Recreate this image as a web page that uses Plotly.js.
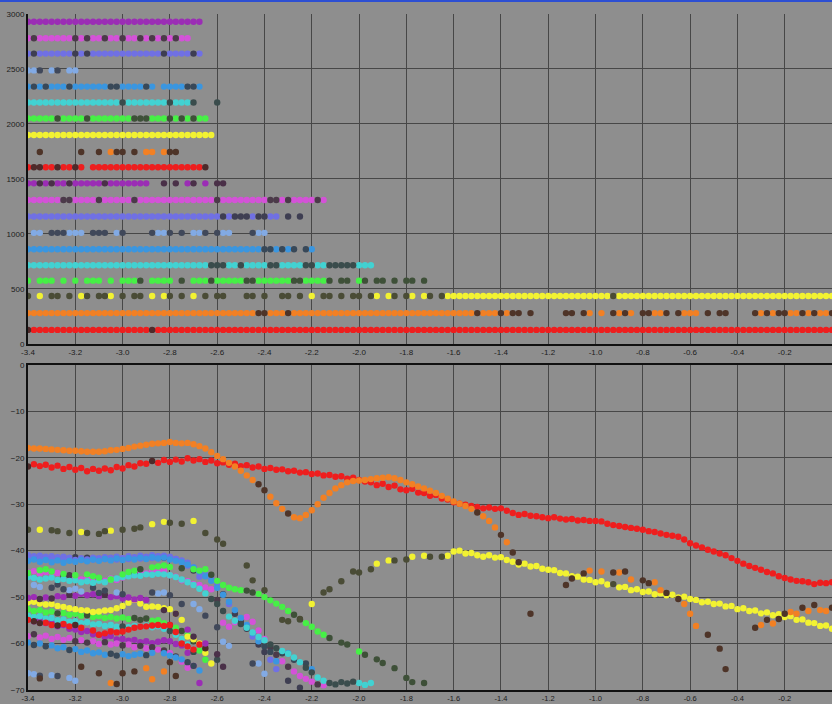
<!DOCTYPE html>
<html>
<head>
<meta charset="utf-8">
<script src="https://cdn.plot.ly/plotly-3.0.1.min.js"></script>
<style>
  html, body { margin: 0; padding: 0; background: #8e8e8e; }
  #chart { width: 832px; height: 704px; }
  #edge { position: absolute; left: 0; top: 0; width: 832px; height: 2px; background: #2d4fd2; }
</style>
</head>
<body>
<div id="chart"></div>
<div id="edge"></div>
<script>
// Shared sample positions along the x axis (step 0.025)
const xGrid = [-3.4,-3.375,-3.35,-3.325,-3.3,-3.275,-3.25,-3.225,-3.2,-3.175,-3.15,-3.125,-3.1,-3.075,-3.05,-3.025,-3,-2.975,-2.95,-2.925,
  -2.9,-2.875,-2.85,-2.825,-2.8,-2.775,-2.75,-2.725,-2.7,-2.675,-2.65,-2.625,-2.6,-2.575,-2.55,-2.525,-2.5,-2.475,-2.45,-2.425,
  -2.4,-2.375,-2.35,-2.325,-2.3,-2.275,-2.25,-2.225,-2.2,-2.175,-2.15,-2.125,-2.1,-2.075,-2.05,-2.025,-2,-1.975,-1.95,-1.925,
  -1.9,-1.875,-1.85,-1.825,-1.8,-1.775,-1.75,-1.725,-1.7,-1.675,-1.65,-1.625,-1.6,-1.575,-1.55,-1.525,-1.5,-1.475,-1.45,-1.425,
  -1.4,-1.375,-1.35,-1.325,-1.3,-1.275,-1.25,-1.225,-1.2,-1.175,-1.15,-1.125,-1.1,-1.075,-1.05,-1.025,-1,-0.975,-0.95,-0.925,
  -0.9,-0.875,-0.85,-0.825,-0.8,-0.775,-0.75,-0.725,-0.7,-0.675,-0.65,-0.625,-0.6,-0.575,-0.55,-0.525,-0.5,-0.475,-0.45,-0.425,
  -0.4,-0.375,-0.35,-0.325,-0.3,-0.275,-0.25,-0.225,-0.2,-0.175,-0.15,-0.125,-0.1,-0.075,-0.05,-0.025,0];

// Row level of each series in the upper strip chart (series 1..20)
const rowLevels = [2930, 2780, 2640, 2487, 2340, 2195, 2050, 1900, 1745, 1607,
                   1460, 1308, 1158, 1010, 860, 715, 575, 435, 280, 127];

// Lower chart values per series, aligned to xGrid (null = no sample); *Dark = flagged samples
const purple1Y = [-54.5,-55.2,-54.8,-55.6,-55.5,-56.3,-56.0,-56.8,-57.0,-57.5,-57.3,-58.0,-58.1,-58.6,-58.4,-59.1,-59.0,-59.4,-59.2,-59.7,
  -59.5,-59.9,-59.6,-59.3,-59.5,-60.1,-60.4,-62.0,-64.8,-68.5];
const purple1Dark = [];

const magenta2Y = [-58.4,-58.0,-58.7,-58.3,-59.0,-58.6,-59.2,-58.8,-59.5,-59.3,-59.8,-59.5,-60.1,-59.7,-60.2,-60.0,-60.4,-60.2,-60.8,-60.5,
  -61.0,-60.8,-61.3,-61.5,-62.0,-62.8,-63.9,-65.2];
const magenta2Dark = [1, 8, 10, 13, 16, 19, 21, 23, 25];

const slate3Y = [-41.0,-41.4,-41.1,-41.5,-41.2,-41.6,-41.3,-41.7,-41.4,-41.8,-41.5,-41.9,-41.6,-41.8,-41.5,-41.9,-41.6,-41.8,-41.4,-41.7,
  -41.3,-41.6,-41.2,-41.5,-41.3,-41.8,-42.4,-43.2,-44.3,-45.6];
const slate3Dark = [1, 8, 10, 23, 28];

const lightBlue4Y = [-66.4,-66.6,-66.9,null,-66.8,-67.0,null,-67.4,-68.0];
const lightBlue4Dark = [2, 5];

const blue5Y = [-59.8,-60.3,-60.0,-60.6,-60.4,-61.0,-60.8,-61.4,-61.2,-61.8,-61.5,-62.1,-61.9,-62.4,-62.2,-62.6,-62.3,-62.7,-62.4,-62.2,
  -62.5,-62.0,null,-62.1,-62.6,-63.0,-63.4,-64.0,-64.8,-65.8];
const blue5Dark = [1, 3, 7, 14, 15, 20, 27, 28];

const cyan6Y = [-54.0,-54.3,-54.1,-54.6,-54.5,-55.0,-54.8,-55.3,-55.2,-55.6,-55.4,-55.9,-55.8,-56.2,-56.0,-56.4,-56.3,-56.5,-56.2,-56.4,
  -56.1,-56.5,-56.3,-56.8,-57.3,-58.1,-59.0,-60.2,-61.8,null,null,null,-63.5];
const cyan6Dark = [16, 24, 28, 32];

const green7Y = [-52.6,-53.0,-52.8,-53.3,-53.1,-53.5,-53.4,-53.8,-53.6,-54.0,-53.9,-54.3,-54.1,-54.5,-54.3,-54.6,-54.4,-54.7,-54.5,-54.9,
  -54.6,-55.1,-55.0,-55.6,-56.0,-56.6,-57.3,-58.2,-59.5,-61.5,-63.5];
const green7Dark = [5, 10, 18, 19, 20, 24, 26, 28];

const yellow8Y = [-51.1,-51.0,-51.4,-51.6,-51.5,-51.9,-52.1,-52.4,-52.6,-52.8,-52.9,-53.2,-53.1,-52.9,-52.8,-52.4,-51.9,-51.2,-50.6,-51.4,
  -52.1,-52.0,-52.1,-52.4,-52.6,-53.6,-54.9,-58.5,-59.1,-60.0,-62.0,-64.3];
const yellow8Dark = [];

const orange9Y = [null,null,-67.5,null,null,null,null,null,null,-65.0,null,null,-66.4,null,-68.5,-68.7,-66.4,null,-66.0,null,
  -65.3,-67.7,null,-66.0,-64.0,-67.0];
const orange9Dark = [2, 9, 12, 15, 16, 18, 24, 25];

const red10Y = [-54.9,-55.2,-55.6,-55.5,-56.0,-56.1,-55.8,-56.3,-56.0,-56.6,null,-57.2,-58.1,-57.8,-57.4,-57.6,-57.4,-57.0,-56.6,-56.4,
  -56.3,-56.1,-56.0,-56.2,-56.0,-57.5,-60.0,-60.6,-61.3,-60.2,-61.0];
const red10Dark = [1, 2, 5, 8, 30];

const purple11Y = [-50.2,-50.0,-50.4,-50.1,-50.3,-49.8,-50.0,-49.5,-49.7,-49.3,-49.6,-49.4,-49.8,-49.5,-50.0,-49.8,-50.3,-50.1,-50.5,-50.2,
  -50.6,null,null,-52.8,null,-53.6,null,-57.0,-58.5,null,-60.0,null,-62.3,-65.0];
const purple11Dark = [2, 4, 7, 13, 23, 25, 28, 32, 33];

const magenta12Y = [-44.7,-44.4,-44.9,-44.6,-45.0,-44.8,-45.5,-45.3,-45.8,-46.2,-45.9,-46.4,-46.1,-46.5,-46.0,-46.3,-45.8,-45.2,-45.0,-44.7,
  -44.9,-44.3,-44.5,-44.2,-45.3,-45.6,-46.4,-46.6,-47.2,-47.4,-47.9,-48.3,-50.6,-55.5,-56.4,-55.4,-54.7,-54.3,-55.3,-57.2,
  -59.0,-60.8,-62.4,-63.8,-65.0,-66.0,-67.0,-67.6,-68.2,-68.8,-69.0];
const magenta12Dark = [6, 7, 12, 18, 32, 41, 42, 44, 49];

const slate13Y = [-41.5,-41.2,-41.7,-41.3,-41.8,-41.4,-41.9,-41.5,-42.0,-41.6,-41.9,-41.5,-41.8,-41.4,-41.7,-41.3,-41.6,-41.2,-41.5,-41.1,
  -41.4,-41.0,-41.3,-41.1,-41.5,-41.8,-42.1,-42.6,-43.6,-44.5,-45.1,-46.2,-47.2,-49.4,-51.5,-53.6,-55.3,-56.8,-58.5,-60.2,
  -61.8,-63.5,-65.5,null,-68.0,null,-69.5];
const slate13Dark = [33, 35, 36, 37, 39, 40, 44, 46];

const lightBlue14Y = [null,-47.4,-47.8,null,-48.0,-47.3,-48.3,-48.5,-48.2,-48.8,null,-48.0,-49.1,-48.6,null,-49.0,-49.4,null,null,null,
  null,-49.0,-49.2,-49.0,-49.6,null,-51.5,null,-51.5,-52.6,-54.0,null,-56.5,-59.6,-60.5,null,null,null,-64.3,-64.3,
  -66.5];
const lightBlue14Dark = [4, 5, 6, 11, 12, 13, 16, 21, 24, 26, 30, 32, 38];

const blue15Y = [-42.2,-41.9,-42.4,-42.0,-42.5,-42.1,-42.6,-42.2,-42.4,-42.0,-42.3,-41.9,-42.2,-41.8,-42.1,-41.7,-42.0,-41.6,-41.9,-41.5,
  -41.8,-41.4,-41.7,-41.5,-41.9,-42.2,-42.5,-43.0,-43.6,-44.5,-45.5,-46.5,-48.0,-49.5,-51.0,-52.8,-54.5,-56.0,-57.8,-59.5,
  -60.6,-61.8,-63.8,-62.1,-62.1,-63.5,null,-64.3,-65.5];
const blue15Dark = [40, 41, 43, 45, 47];

const cyan16Y = [-45.7,-45.9,-46.2,-46.0,-45.8,-46.3,-46.1,-46.5,-46.4,-46.8,-46.6,-46.9,-46.5,-46.8,-46.2,-46.0,-45.7,-45.5,-45.3,-45.4,
  -45.1,-45.2,-45.0,-45.1,-45.3,-45.7,-46.2,-46.8,-47.4,-48.2,-49.2,-50.4,-51.5,-53.0,-54.2,-55.1,-55.8,-56.6,-57.6,-58.6,
  -59.3,-60.2,-61.0,-61.6,-62.2,-63.0,-64.0,-65.2,-66.2,-67.3,-68.0,-68.5,-68.8,-68.3,-68.6,-68.2,-68.5,-68.9,-68.5];
const cyan16Dark = [31, 32, 33, 36, 41, 42, 47, 48, 51, 52, 53, 54, 55];

const green17Y = [-44.8,null,-44.2,-44.0,-44.5,null,-45.0,null,-45.3,null,-45.1,-45.5,-45.8,null,-46.2,null,-45.1,-44.6,-44.3,-44.0,
  null,-43.6,-43.4,-43.2,-43.5,null,-43.8,null,-44.0,-44.3,-44.0,-45.2,-46.5,-47.4,-48.0,-48.3,-48.5,-48.6,-49.0,-49.3,
  -50.0,-50.7,-51.4,-52.1,-53.0,-53.8,-54.8,-55.6,-56.4,-57.4,-58.1,-58.8,null,-59.8,-60.2,null,-61.7,-62.4,null,-63.4,
  -64.2,null,-65.3,null,-67.4,-68.3,null,-68.5];
const green17Dark = [19, 26, 31, 37, 38, 45, 46, 51, 53, 54, 57, 59, 60, 62, 64, 65, 67];

const yellow18Y = [-35.5,null,-35.5,null,-35.6,-35.8,null,-36.2,null,-36.0,-36.2,null,-36.4,-35.8,-35.7,null,-35.5,null,-35.3,-35.0,
  null,-34.3,null,-33.8,-34.0,null,-34.2,null,-33.6,null,-36.2,null,-37.6,-38.5,null,null,null,-43.2,-46.4,null,
  -48.5,null,null,-54.9,-55.2,null,-54.7,null,-51.5,null,-49.0,-48.3,null,-46.6,null,-44.5,-44.7,null,-44.0,-42.8,
  null,-42.1,-42.1,null,-41.9,-41.3,null,-41.1,-41.3,null,-41.3,-41.1,-40.2,-40.0,-40.6,-40.5,-41.0,-41.3,-41.0,-41.5,
  -41.4,-42.0,-42.4,-43.0,-42.8,-43.4,-43.3,-43.9,-44.1,-44.2,-44.8,-44.9,-45.5,-45.6,-46.2,-46.3,-46.8,-46.6,-47.3,-47.2,
  -47.9,-47.8,-48.5,-48.3,-48.9,-48.8,-49.4,-49.2,-49.6,-49.5,-50.1,-49.9,-50.4,-50.6,-51.1,-51.0,-51.5,-51.4,-52.0,-51.9,
  -52.6,-52.4,-53.0,-52.9,-53.5,-53.3,-53.9,-53.7,-54.3,-54.1,-54.9,-54.8,-55.5,-55.6,-56.2,-56.1,-56.8];
const yellow18Dark = [0, 4, 5, 7, 10, 12, 13, 16, 18, 19, 24, 26, 30, 32, 33, 37, 38, 40, 43, 44, 46, 50, 51, 53, 55, 56, 58, 62, 64, 68, 70, 99];

const orange19Y = [-17.9,-18.0,-18.0,-18.1,-18.2,-18.3,-18.4,-18.5,-18.5,-18.6,-18.7,-18.7,-18.7,-18.6,-18.4,-18.3,-18.1,-17.9,-17.6,-17.4,
  -17.2,-17.0,-16.9,-16.8,-16.6,-16.8,-16.9,-16.8,-17.1,-17.5,-18.0,-18.8,-19.6,-20.3,-21.1,-21.9,-22.8,-23.8,-24.8,-25.7,
  -27.0,-28.4,-29.8,-31.0,-32.0,-32.8,-33.0,-32.3,-31.3,-30.0,-28.6,-27.6,-26.6,-25.9,-25.3,-25.0,-24.9,-24.8,-24.6,-24.4,
  -24.3,-24.2,-24.4,-24.8,-25.3,-25.7,-26.2,-26.6,-27.1,-27.6,-28.2,-28.8,-29.4,-29.9,-30.4,-31.0,-31.8,-32.6,-33.6,-35.0,
  -36.6,-38.2,-40.4,-42.5,null,-53.6,null,null,null,null,null,-47.4,-46.0,null,-44.9,-44.3,null,-44.5,null,-44.7,
  -44.7,-44.5,-46.2,null,-46.4,-47.0,-46.8,-48.5,-49.1,null,-50.4,-51.5,-53.6,-56.2,null,-58.1,null,-61.1,-65.5,null,
  null,null,null,-56.6,-56.0,-54.9,-55.7,-54.7,-53.6,-53.2,-53.6,-52.3,-53.0,-51.7,-52.8,-53.0,-52.3];
const orange19Dark = [39, 40, 44, 76, 80, 82, 83, 85, 91, 92, 94, 99, 101, 104, 105, 108, 110, 115, 117, 118, 123, 125, 127, 128, 131, 133, 136];

const red20Y = [-21.9,-21.4,-21.8,-21.5,-22.1,-21.7,-22.4,-22.0,-22.6,-22.2,-22.9,-22.4,-22.8,-22.3,-22.7,-22.0,-22.3,-21.6,-21.9,-21.2,
  -21.3,-20.7,-21.1,-20.5,-20.9,-20.4,-20.8,-20.1,-20.6,-20.3,-20.9,-20.6,-21.2,-21.0,-21.5,-21.3,-21.8,-21.6,-22.1,-21.9,
  -22.4,-22.2,-22.6,-22.5,-22.9,-22.8,-23.2,-23.1,-23.5,-23.4,-23.8,-23.7,-24.1,-24.0,-24.5,-24.3,-24.8,-25.1,-25.3,-25.9,
  -25.6,-26.3,-26.0,-26.8,-27.0,-26.7,-27.5,-27.6,-28.2,-28.0,-28.8,-29.0,-29.6,-29.9,-30.1,-30.4,-30.6,-30.9,-30.7,-31.0,
  -30.9,-31.4,-31.9,-32.3,-32.1,-32.5,-32.6,-32.8,-33.0,-32.8,-33.1,-33.3,-33.2,-33.5,-33.4,-33.6,-33.6,-33.7,-34.2,-34.5,
  -34.7,-34.9,-35.1,-35.3,-35.5,-35.8,-36.0,-36.3,-36.6,-36.8,-37.0,-37.6,-38.4,-38.9,-39.3,-39.8,-40.2,-40.6,-41.0,-41.6,
  -42.2,-42.8,-43.3,-43.7,-44.1,-44.6,-44.9,-45.5,-45.9,-46.2,-46.5,-46.6,-46.8,-47.2,-46.9,-47.0,-46.8];
const red20Dark = [0, 21];

// Axis ticks
const xTickVals = [-3.4,-3.2,-3.0,-2.8,-2.6,-2.4,-2.2,-2.0,-1.8,-1.6,-1.4,-1.2,-1.0,-0.8,-0.6,-0.4,-0.2,0];
const xTickText = ['-3.4','-3.2','-3.0','-2.8','-2.6','-2.4','-2.2','-2.0','-1.8','-1.6','-1.4','-1.2','-1.0','-0.8','-0.6','-0.4','-0.2','0'];
const topTickVals = [0, 500, 1000, 1500, 2000, 2500, 3000];
const bottomTickVals = [0, -10, -20, -30, -40, -50, -60, -70];

// Palette: bright colour and flagged (dark) colour for each family
const PAL = {
  purple:  ['#9b2db5', '#4a3048'],
  magenta: ['#d452d8', '#4b3a49'],
  slate:   ['#7070e4', '#3e3e52'],
  lblue:   ['#82aae4', '#40485a'],
  blue:    ['#3a96e0', '#384858'],
  cyan:    ['#42d2d2', '#3a4c4c'],
  green:   ['#46f046', '#3e5038'],
  yellow:  ['#f2f232', '#4a4c36'],
  orange:  ['#f28024', '#4e3428'],
  red:     ['#ee1e1e', '#4e2a2a']
};

const seriesList = [
  [purple1Y, purple1Dark, 'purple'],
  [magenta2Y, magenta2Dark, 'magenta'],
  [slate3Y, slate3Dark, 'slate'],
  [lightBlue4Y, lightBlue4Dark, 'lblue'],
  [blue5Y, blue5Dark, 'blue'],
  [cyan6Y, cyan6Dark, 'cyan'],
  [green7Y, green7Dark, 'green'],
  [yellow8Y, yellow8Dark, 'yellow'],
  [orange9Y, orange9Dark, 'orange'],
  [red10Y, red10Dark, 'red'],
  [purple11Y, purple11Dark, 'purple'],
  [magenta12Y, magenta12Dark, 'magenta'],
  [slate13Y, slate13Dark, 'slate'],
  [lightBlue14Y, lightBlue14Dark, 'lblue'],
  [blue15Y, blue15Dark, 'blue'],
  [cyan16Y, cyan16Dark, 'cyan'],
  [green17Y, green17Dark, 'green'],
  [yellow18Y, yellow18Dark, 'yellow'],
  [red20Y, red20Dark, 'red'],
  [orange19Y, orange19Dark, 'orange']
];
const levelIndex = [0,1,2,3,4,5,6,7,8,9,10,11,12,13,14,15,16,17,19,18];

const MS = 6.4;
const traces = [];
seriesList.forEach(([ys, dark, fam], k) => {
  const level = rowLevels[levelIndex[k]];
  const darkSet = new Set(dark);
  const groups = [[], []];
  ys.forEach((v, i) => { if (v !== null) groups[darkSet.has(i) ? 1 : 0].push(i); });
  groups.forEach((idx, g) => {
    if (!idx.length) return;
    const col = PAL[fam][g];
    const xs = idx.map(i => xGrid[i]);
    traces.push({type: 'scatter', mode: 'markers', xaxis: 'x', yaxis: 'y',
      x: xs, y: idx.map(() => level), hoverinfo: 'skip',
      marker: {size: MS, color: col, line: {width: 0}}});
    traces.push({type: 'scatter', mode: 'markers', xaxis: 'x2', yaxis: 'y2',
      x: xs, y: idx.map(i => ys[i]), hoverinfo: 'skip',
      marker: {size: MS, color: col, line: {width: 0}}});
  });
});

const axisCommon = {
  showgrid: true, gridcolor: '#474747', gridwidth: 1,
  showline: true, linecolor: '#111111', linewidth: 2,
  zeroline: false, ticks: '', fixedrange: true,
  tickfont: {family: 'Liberation Sans, Arial, sans-serif', size: 8, color: '#1c1c1c'}
};

const layout = {
  width: 832, height: 704,
  margin: {l: 28, r: 0, t: 14, b: 14},
  paper_bgcolor: '#8e8e8e', plot_bgcolor: '#8e8e8e',
  showlegend: false,
  xaxis: Object.assign({}, axisCommon, {anchor: 'y', domain: [0, 1], range: [-3.4, 0],
    tickmode: 'array', tickvals: xTickVals, ticktext: xTickText}),
  yaxis: Object.assign({}, axisCommon, {anchor: 'x', domain: [0.512, 1], range: [0, 3000],
    tickmode: 'array', tickvals: topTickVals}),
  xaxis2: Object.assign({}, axisCommon, {anchor: 'y2', domain: [0, 1], range: [-3.4, 0], mirror: true,
    tickmode: 'array', tickvals: xTickVals, ticktext: xTickText,
    tickfont: {family: 'Liberation Sans, Arial, sans-serif', size: 7.5, color: '#1c1c1c'}}),
  yaxis2: Object.assign({}, axisCommon, {anchor: 'x2', domain: [0, 0.481], range: [-70, 0],
    tickmode: 'array', tickvals: bottomTickVals})
};

Plotly.newPlot('chart', traces, layout, {staticPlot: true, displayModeBar: false});
</script>
</body>
</html>
